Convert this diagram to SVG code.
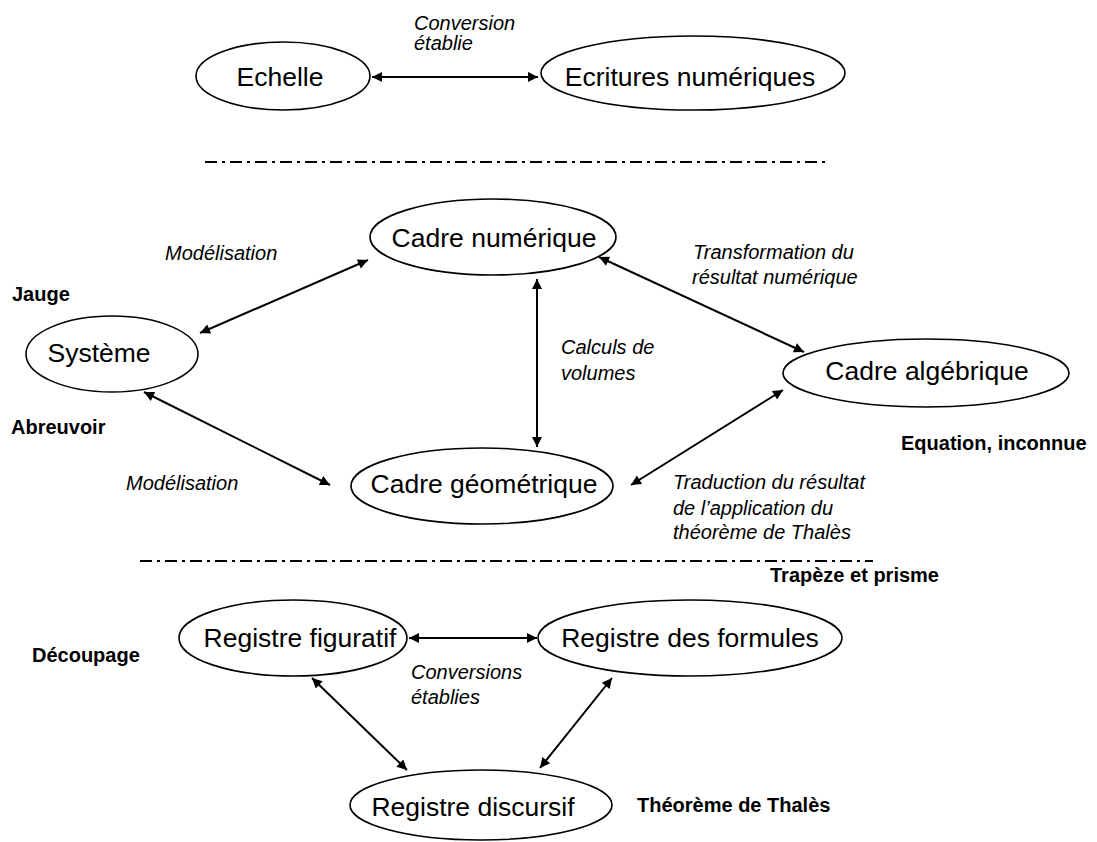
<svg xmlns="http://www.w3.org/2000/svg" width="1097" height="842" viewBox="0 0 1097 842">
<style>
.node ellipse{fill:#fff;stroke:#000;stroke-width:1.6}
.node text{font-family:"Liberation Sans",Arial,sans-serif;font-size:26.5px;text-anchor:middle;fill:#000}
.lbl{font-family:"Liberation Sans",Arial,sans-serif;font-size:20px;font-style:italic;fill:#000}
.bold{font-family:"Liberation Sans",Arial,sans-serif;font-size:20px;font-weight:bold;fill:#000}
.conn line{stroke:#000;stroke-width:2;marker-start:url(#ah);marker-end:url(#ah)}
.sep{stroke:#000;stroke-width:2;stroke-dasharray:12 5 3 5;fill:none}
</style>
<defs>
<marker id="ah" viewBox="0 0 10 10" refX="10" refY="5" markerWidth="6" markerHeight="5" orient="auto-start-reverse" markerUnits="strokeWidth">
<path d="M0,0 L10,5 L0,10 z" fill="#000"/>
</marker>
</defs>
<rect width="1097" height="842" fill="#fff"/>

<g id="separators">
<line class="sep" x1="205" y1="162" x2="826" y2="162"/>
<line class="sep" x1="140" y1="561" x2="873" y2="561"/>
</g>

<g class="conn" id="connectors">
<line x1="372" y1="77" x2="538" y2="77"/>
<line x1="200" y1="333" x2="368" y2="260"/>
<line x1="144" y1="392" x2="330" y2="485"/>
<line x1="537" y1="279" x2="537" y2="447"/>
<line x1="599" y1="257" x2="804" y2="352"/>
<line x1="631" y1="485" x2="783" y2="390"/>
<line x1="409" y1="638" x2="537" y2="638"/>
<line x1="312" y1="678" x2="407" y2="770"/>
<line x1="612" y1="678" x2="540" y2="768"/>
</g>

<g id="echelle" class="node"><ellipse cx="283" cy="76" rx="87" ry="34"/><text x="280" y="86">Echelle</text></g>
<g id="ecritures" class="node"><ellipse cx="693" cy="73" rx="152" ry="37"/><text x="690" y="86">Ecritures numériques</text></g>
<g id="cadre-numerique" class="node"><ellipse cx="493" cy="237" rx="123" ry="38"/><text x="494" y="247">Cadre numérique</text></g>
<g id="systeme" class="node"><ellipse cx="112" cy="354" rx="86" ry="38"/><text x="99" y="362">Système</text></g>
<g id="cadre-algebrique" class="node"><ellipse cx="926" cy="373" rx="143" ry="34"/><text x="927" y="380">Cadre algébrique</text></g>
<g id="cadre-geometrique" class="node"><ellipse cx="482" cy="486" rx="131" ry="38"/><text x="484" y="493">Cadre géométrique</text></g>
<g id="registre-figuratif" class="node"><ellipse cx="293" cy="638" rx="114" ry="38"/><text x="300" y="647">Registre figuratif</text></g>
<g id="registre-formules" class="node"><ellipse cx="690" cy="638" rx="152" ry="38"/><text x="690" y="647">Registre des formules</text></g>
<g id="registre-discursif" class="node"><ellipse cx="481" cy="805" rx="131" ry="35"/><text x="473" y="816">Registre discursif</text></g>

<g id="labels">
<text class="lbl" x="414" y="30">Conversion</text>
<text class="lbl" x="414" y="50">établie</text>
<text class="lbl" x="165" y="260">Modélisation</text>
<text class="lbl" x="693" y="259">Transformation du</text>
<text class="lbl" x="692" y="284">résultat numérique</text>
<text class="lbl" x="561" y="354">Calculs de</text>
<text class="lbl" x="561" y="380">volumes</text>
<text class="lbl" x="126" y="490">Modélisation</text>
<text class="lbl" x="673" y="489">Traduction du résultat</text>
<text class="lbl" x="673" y="515">de l’application du</text>
<text class="lbl" x="673" y="539">théorème de Thalès</text>
<text class="lbl" x="411" y="679">Conversions</text>
<text class="lbl" x="411" y="704">établies</text>
<text class="bold" x="12" y="301">Jauge</text>
<text class="bold" x="11" y="434">Abreuvoir</text>
<text class="bold" x="901" y="450">Equation, inconnue</text>
<text class="bold" x="770" y="582">Trapèze et prisme</text>
<text class="bold" x="32" y="662">Découpage</text>
<text class="bold" x="637" y="812">Théorème de Thalès</text>
</g>
</svg>
